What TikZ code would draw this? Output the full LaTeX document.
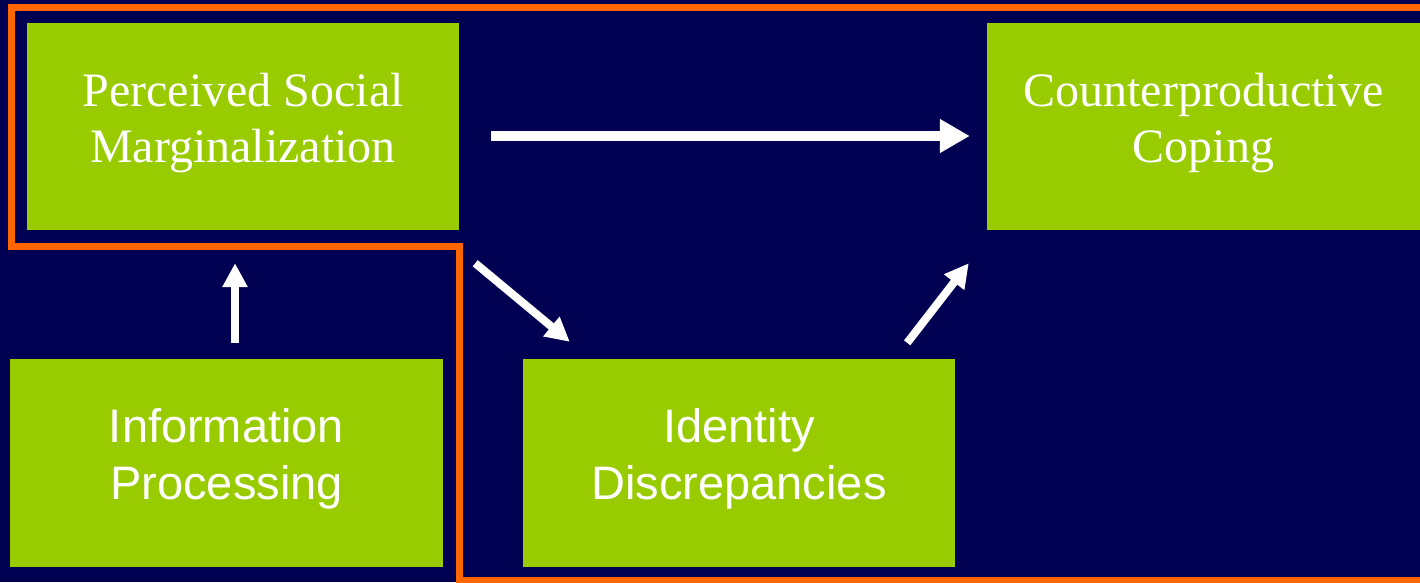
\documentclass[tikz,border=0pt]{standalone}
\usepackage{fontspec}
\usepackage{xcolor}
\usetikzlibrary{arrows.meta}

\setmainfont{Liberation Serif}
\setsansfont{Liberation Sans}

\definecolor{navybg}{RGB}{0,0,82}
\definecolor{boxgreen}{RGB}{153,204,0}
\definecolor{outlineorange}{RGB}{255,102,0}

\begin{document}
\begin{tikzpicture}[x=1pt, y=-1pt,
		greenbox/.style={rectangle, fill=boxgreen, text=white, inner sep=0pt, align=center, text depth=18pt},
		serifbox/.style={greenbox, font=\rmfamily\fontsize{48}{56}\selectfont},
		sansbox/.style={greenbox, font=\sffamily\fontsize{47}{57}\selectfont},
		bigarrow/.style={draw=white, line width=10pt, -{Triangle[width=32pt, length=30pt]}},
		smallarrow/.style={draw=white, line width=8pt, -{Triangle[width=24pt, length=24pt]}}]
				% Background
				\fill[navybg] (0,0) rectangle (1420,582);
				\useasboundingbox (0,0) rectangle (1420,582);
				\clip (0,0) rectangle (1420,582);
				
				% Orange outline round the upper path
				\draw[outlineorange, line width=7pt] (1440,7) -- (11,7) -- (11,246) -- (459,246) -- (459,580) -- (1440,580);
				
				% Boxes
				\node[serifbox, minimum width=432pt, minimum height=207pt] (psm) at (243,126.5) {Perceived Social\\Marginalization};
				\node[serifbox, minimum width=433pt, minimum height=207pt] (cc) at (1203.5,126.5) {Counterproductive\\Coping};
				\node[sansbox, minimum width=433pt, minimum height=208pt] (ip) at (226.5,462.5) {Information\\Processing};
				\node[sansbox, minimum width=432pt, minimum height=208pt] (id) at (739,463) {Identity\\Discrepancies};
				
				% Arrow to coping
				\draw[bigarrow] ([xshift=32pt, yshift=-9.5pt]psm.east) -- ([xshift=-17pt, yshift=-9.5pt]cc.west);
				
				% Arrow up to marginalization
				\draw[smallarrow] ([xshift=8.5pt, yshift=15pt]ip.north) -- ([xshift=-8pt, yshift=-33pt]psm.south);
				
				% Arrow to discrepancies
				\draw[smallarrow] ([shift={(16,33)}]psm.south east) -- ([shift={(47,-17)}]id.north west);
				
				% Arrow from discrepancies to coping
				\draw[smallarrow] ([shift={(-48,-16)}]id.north east) -- ([shift={(-18,33)}]cc.south west);
\end{tikzpicture}
\end{document}
